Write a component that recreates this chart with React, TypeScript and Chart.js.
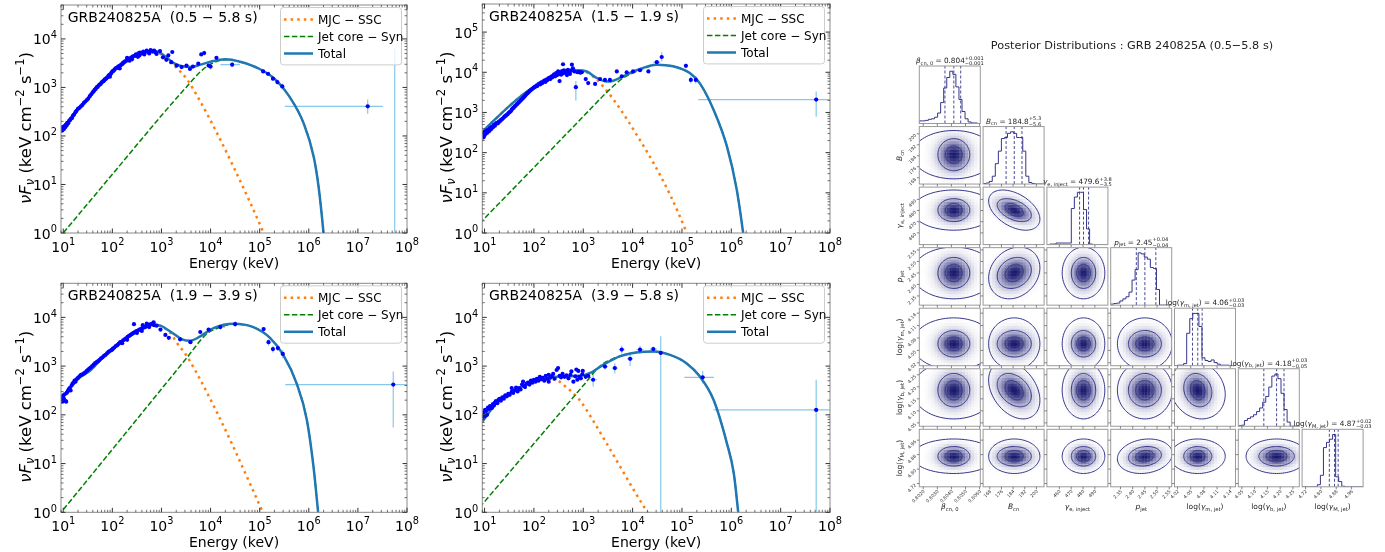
import React, { useEffect, useRef } from 'react';
import { Chart, registerables } from 'chart.js';
Chart.register(...registerables);
Chart.defaults.font.family = '"DejaVu Sans", sans-serif';

const FAM = '"DejaVu Sans", sans-serif';

// ---------------- SED data (log10 E [keV], log10 nuFnu) ----------------
const xTickExps = [1, 2, 3, 4, 5, 6, 7, 8];
const yTickExpsA = [0, 1, 2, 3, 4];
const yTickExpsB = [0, 1, 2, 3, 4, 5];
const legendLabels = ['MJC − SSC', 'Jet core − Syn', 'Total'];
const panelTitles = ['GRB240825A  (0.5 − 5.8 s)', 'GRB240825A  (1.5 − 1.9 s)', 'GRB240825A  (1.9 − 3.9 s)', 'GRB240825A  (3.9 − 5.8 s)'];

const p1Total = [[0.95,2.1],[1.0,2.15],[1.07,2.25],[1.17,2.39],[1.27,2.53],[1.47,2.73],[1.68,2.99],[1.88,3.18],[2.02,3.35],[2.22,3.49],[2.42,3.62],[2.63,3.71],[2.83,3.75],[2.95,3.73],[3.1,3.62],[3.25,3.5],[3.4,3.44],[3.6,3.42],[3.8,3.47],[4.0,3.53],[4.3,3.58],[4.6,3.53],[5.0,3.38],[5.3,3.18],[5.6,2.82],[5.9,2.25],[6.1,1.57],[6.2,0.95],[6.3,0.0],[6.35,-0.6]];
const p1Ssc = [[0.95,2.1],[1.0,2.15],[1.07,2.25],[1.17,2.39],[1.27,2.53],[1.47,2.73],[1.68,2.99],[1.88,3.18],[2.02,3.35],[2.22,3.49],[2.42,3.62],[2.63,3.71],[2.83,3.74],[2.95,3.71],[3.1,3.58],[3.31,3.4],[3.51,3.18],[3.78,2.73],[4.12,2.08],[4.46,1.38],[4.8,0.64],[5.08,0.0],[5.14,-0.15]];
const p1Syn = [[0.9,-0.12],[2.0,1.21],[3.0,2.42],[3.5,3.0],[3.8,3.33],[4.0,3.48],[4.3,3.57],[4.6,3.53],[5.0,3.38],[5.3,3.18],[5.6,2.82],[5.9,2.25],[6.1,1.57],[6.2,0.95],[6.3,0.0],[6.35,-0.6]];
const p1Points = [[0.96,2.13],[0.97,2.17],[0.98,2.11],[0.99,2.16],[1.0,2.19],[1.01,2.14],[1.02,2.2],[1.04,2.18],[1.05,2.23],[1.07,2.22],[1.08,2.27],[1.1,2.26],[1.12,2.31],[1.14,2.33],[1.16,2.36],[1.18,2.37],[1.2,2.42],[1.22,2.44],[1.25,2.49],[1.27,2.52],[1.3,2.56],[1.33,2.58],[1.36,2.61],[1.39,2.64],[1.42,2.68],[1.45,2.71],[1.48,2.74],[1.51,2.77],[1.54,2.82],[1.57,2.86],[1.6,2.9],[1.62,2.92],[1.64,2.95],[1.66,2.97],[1.68,3.0],[1.7,3.01],[1.72,3.04],[1.74,3.06],[1.76,3.07],[1.78,3.1],[1.8,3.12],[1.82,3.13],[1.84,3.16],[1.86,3.17],[1.88,3.19],[1.9,3.21],[1.92,3.24],[1.94,3.26],[1.96,3.27],[1.98,3.3],[2.0,3.33],[2.02,3.34],[2.04,3.36],[2.06,3.39],[2.08,3.4],[2.1,3.41],[2.12,3.43],[2.14,3.44],[2.16,3.45],[2.18,3.47],[2.2,3.48],[2.22,3.51],[2.25,3.53],[2.28,3.55],[2.3,3.57],[2.33,3.58],[2.36,3.6],[2.39,3.62],[2.42,3.64],[2.45,3.65],[2.48,3.68],[2.5,3.66],[2.53,3.7],[2.56,3.72],[2.6,3.7],[2.63,3.74],[2.66,3.72],[2.7,3.76],[2.74,3.73],[2.78,3.77],[2.82,3.74],[2.85,3.76],[2.88,3.72],[1.95,3.22],[2.15,3.39],[2.35,3.55],[2.52,3.63],[2.65,3.68],[2.3,3.61],[2.4,3.58],[2.55,3.66],[2.75,3.7],[2.9,3.69],[2.97,3.75],[3.03,3.62],[3.1,3.57],[3.14,3.66],[3.22,3.73],[3.2,3.52],[3.31,3.45],[3.41,3.42],[3.51,3.45],[3.58,3.38],[3.64,3.43],[3.75,3.49],[3.81,3.68],[3.96,3.45],[4.12,3.61]];
const p1Err = [[3.87,3.71,3.85,3.89,3.66,3.76],[4.0,3.43,3.98,4.02,3.37,3.49],[4.44,3.47,4.2,4.6,3.42,3.52],[5.07,3.33,5.04,5.1,3.3,3.36],[5.17,3.28,5.14,5.2,3.25,3.31],[5.27,3.18,5.24,5.3,3.14,3.22],[5.36,3.11,5.33,5.39,3.06,3.16],[5.46,3.02,5.42,5.5,2.96,3.08],[7.2,2.61,5.51,7.51,2.46,2.75],[7.75,-1,7.75,7.75,-2,3.79]];

const p2Total = [[0.95,2.5],[0.97,2.53],[1.24,2.86],[1.65,3.32],[1.92,3.57],[2.26,3.81],[2.59,3.98],[2.86,4.05],[3.07,4.02],[3.27,3.86],[3.47,3.77],[3.61,3.79],[3.81,3.9],[4.08,4.05],[4.49,4.19],[4.82,4.15],[5.16,3.98],[5.36,3.73],[5.64,3.07],[5.91,2.16],[6.11,1.08],[6.24,0.0],[6.3,-0.6]];
const p2Ssc = [[0.95,2.5],[0.97,2.53],[1.24,2.86],[1.65,3.32],[1.92,3.57],[2.26,3.81],[2.59,3.98],[2.86,4.04],[3.07,4.0],[3.27,3.82],[3.47,3.55],[3.74,3.1],[4.08,2.45],[4.42,1.75],[4.76,0.95],[5.1,0.0],[5.15,-0.15]];
const p2Syn = [[0.9,0.24],[2.0,1.63],[3.0,2.9],[3.5,3.53],[3.8,3.85],[4.1,4.03],[4.49,4.18],[4.82,4.15],[5.16,3.97],[5.36,3.72],[5.64,3.07],[5.91,2.16],[6.11,1.08],[6.24,0.0],[6.3,-0.6]];
const p2Points = [[0.97,2.45],[0.98,2.38],[0.99,2.5],[1.0,2.43],[1.01,2.52],[1.02,2.47],[1.04,2.55],[1.05,2.49],[1.07,2.57],[1.09,2.53],[1.11,2.61],[1.13,2.58],[1.15,2.65],[1.17,2.63],[1.19,2.69],[1.21,2.67],[1.23,2.72],[1.25,2.74],[1.27,2.73],[1.29,2.77],[1.31,2.78],[1.33,2.81],[1.35,2.83],[1.37,2.85],[1.39,2.88],[1.41,2.9],[1.43,2.92],[1.45,2.94],[1.47,2.96],[1.49,2.99],[1.51,3.01],[1.53,3.03],[1.55,3.07],[1.57,3.1],[1.59,3.12],[1.61,3.15],[1.63,3.17],[1.65,3.2],[1.67,3.22],[1.69,3.25],[1.71,3.27],[1.73,3.3],[1.75,3.32],[1.77,3.35],[1.79,3.37],[1.81,3.4],[1.83,3.43],[1.85,3.46],[1.87,3.48],[1.89,3.5],[1.91,3.53],[1.93,3.55],[1.95,3.57],[1.97,3.59],[1.99,3.61],[2.01,3.63],[2.03,3.64],[2.05,3.67],[2.07,3.66],[2.09,3.7],[2.11,3.72],[2.13,3.7],[2.15,3.75],[2.17,3.73],[2.19,3.77],[2.21,3.79],[2.23,3.76],[2.25,3.82],[2.27,3.8],[2.29,3.84],[2.31,3.86],[2.33,3.83],[2.35,3.89],[2.37,3.87],[2.39,3.92],[2.41,3.95],[2.43,3.9],[2.45,3.98],[2.47,3.93],[2.49,4.02],[2.51,3.96],[2.52,3.78],[2.53,4.0],[2.55,3.94],[2.57,4.03],[2.59,3.97],[2.61,4.05],[2.63,3.99],[2.65,4.02],[2.67,3.93],[2.69,4.06],[2.71,4.0],[2.73,3.96],[2.75,4.04],[2.77,4.19],[2.59,4.2],[2.79,4.1],[2.82,4.02],[2.88,4.0],[2.91,4.01],[2.94,3.99],[2.97,4.0],[3.05,3.83],[3.1,3.73],[3.24,3.71],[3.34,3.83],[3.44,3.81],[3.54,3.81],[3.68,4.02],[3.78,3.9],[3.88,4.0],[4.01,4.02],[4.15,4.05],[4.32,4.02]];
const p2Err = [[2.85,3.63,2.85,2.85,3.3,3.78],[4.59,4.38,4.55,4.63,4.27,4.5],[4.49,4.25,4.42,4.56,4.2,4.3],[5.08,4.16,5.05,5.11,4.1,4.22],[5.18,3.81,5.15,5.21,3.72,3.9],[5.28,3.81,5.25,5.31,3.72,3.9],[7.72,3.32,5.33,8.1,2.89,3.52]];

const p3Total = [[0.95,2.32],[0.97,2.34],[1.28,2.72],[1.56,2.92],[1.76,3.13],[2.03,3.37],[2.3,3.58],[2.57,3.75],[2.81,3.85],[2.98,3.83],[3.18,3.71],[3.42,3.55],[3.59,3.52],[3.79,3.61],[4.06,3.78],[4.47,3.87],[4.87,3.8],[5.21,3.58],[5.48,3.23],[5.75,2.65],[5.96,1.9],[6.1,0.9],[6.19,0.0],[6.25,-0.6]];
const p3Ssc = [[0.95,2.32],[0.97,2.34],[1.28,2.72],[1.56,2.92],[1.76,3.13],[2.03,3.37],[2.3,3.58],[2.57,3.75],[2.81,3.84],[2.98,3.82],[3.18,3.68],[3.32,3.47],[3.52,3.2],[3.79,2.72],[4.13,2.05],[4.47,1.33],[4.81,0.57],[5.06,0.0],[5.12,-0.15]];
const p3Syn = [[0.9,-0.07],[2.0,1.29],[3.0,2.53],[3.5,3.15],[3.92,3.66],[4.1,3.76],[4.47,3.86],[4.87,3.8],[5.21,3.58],[5.48,3.23],[5.75,2.65],[5.96,1.9],[6.1,0.9],[6.19,0.0],[6.25,-0.6]];
const p3Points = [[0.96,2.3],[0.97,2.36],[0.98,2.27],[0.99,2.33],[1.0,2.4],[1.01,2.34],[1.03,2.42],[1.05,2.28],[1.06,2.27],[1.07,2.45],[1.09,2.48],[1.11,2.52],[1.13,2.55],[1.15,2.5],[1.17,2.6],[1.19,2.64],[1.21,2.66],[1.23,2.7],[1.25,2.68],[1.27,2.73],[1.3,2.76],[1.33,2.79],[1.36,2.82],[1.39,2.83],[1.42,2.85],[1.45,2.87],[1.48,2.9],[1.5,2.92],[1.53,2.95],[1.56,2.97],[1.59,3.0],[1.62,3.03],[1.65,3.06],[1.68,3.08],[1.71,3.1],[1.74,3.13],[1.77,3.16],[1.8,3.18],[1.83,3.21],[1.86,3.23],[1.89,3.26],[1.92,3.29],[1.95,3.31],[1.98,3.33],[2.01,3.36],[2.04,3.38],[2.07,3.41],[2.1,3.43],[2.13,3.46],[2.16,3.49],[2.19,3.5],[2.22,3.53],[2.25,3.55],[2.28,3.57],[2.31,3.6],[2.34,3.62],[2.37,3.64],[2.4,3.66],[2.43,3.68],[2.46,3.7],[2.49,3.72],[2.52,3.73],[2.55,3.75],[2.58,3.76],[2.61,3.78],[2.64,3.79],[2.67,3.8],[2.7,3.82],[2.73,3.83],[2.76,3.85],[2.79,3.86],[2.82,3.87],[2.85,3.84],[2.44,3.86],[2.62,3.84],[2.7,3.87],[2.84,3.9],[2.3,3.54],[2.5,3.68],[2.6,3.72],[2.75,3.8],[2.2,3.47],[2.0,3.34],[2.9,3.83],[2.98,3.75],[3.08,3.64],[3.15,3.58],[3.38,3.55],[3.59,3.49],[3.79,3.7],[3.96,3.75]];
const p3Err = [[4.2,3.8,4.1,4.3,3.75,3.85],[4.5,3.86,4.4,4.6,3.8,3.92],[5.08,3.76,5.05,5.11,3.72,3.8],[5.18,3.49,5.15,5.21,3.42,3.55],[5.27,3.35,5.24,5.3,3.28,3.42],[5.37,3.37,5.34,5.4,3.31,3.43],[5.47,3.25,5.44,5.5,3.16,3.33],[7.72,2.62,5.52,8.1,1.74,2.89]];

const p4Total = [[0.93,1.84],[0.95,1.86],[1.24,2.24],[1.58,2.48],[1.92,2.65],[2.26,2.75],[2.59,2.79],[2.93,2.8],[3.14,2.86],[3.41,3.03],[3.74,3.2],[4.08,3.28],[4.42,3.3],[4.76,3.23],[5.09,3.06],[5.36,2.79],[5.64,2.31],[5.91,1.42],[6.05,0.8],[6.14,0.0],[6.2,-0.6]];
const p4Ssc = [[0.93,1.84],[0.95,1.86],[1.24,2.24],[1.58,2.48],[1.92,2.65],[2.26,2.73],[2.45,2.72],[2.59,2.62],[2.93,2.3],[3.2,1.88],[3.47,1.42],[3.74,0.95],[4.01,0.48],[4.3,0.0],[4.36,-0.1]];
const p4Syn = [[0.9,0.1],[2.0,1.41],[3.0,2.6],[3.34,3.0],[3.6,3.15],[3.9,3.25],[4.2,3.29],[4.42,3.3],[4.76,3.23],[5.09,3.06],[5.36,2.79],[5.64,2.31],[5.91,1.42],[6.05,0.8],[6.14,0.0],[6.2,-0.6]];
const p4Points = [[0.96,1.96],[0.98,2.05],[1.0,1.97],[1.01,2.1],[1.03,2.08],[1.05,2.0],[1.07,2.15],[1.09,2.12],[1.11,2.18],[1.13,2.17],[1.15,2.14],[1.17,2.22],[1.19,2.19],[1.21,2.25],[1.23,2.28],[1.26,2.24],[1.28,2.3],[1.3,2.33],[1.33,2.29],[1.36,2.36],[1.39,2.33],[1.42,2.4],[1.45,2.38],[1.48,2.43],[1.51,2.41],[1.55,2.47],[1.58,2.45],[1.61,2.5],[1.64,2.56],[1.67,2.48],[1.7,2.55],[1.73,2.52],[1.76,2.62],[1.79,2.6],[1.82,2.57],[1.85,2.64],[1.88,2.66],[1.91,2.62],[1.94,2.7],[1.97,2.66],[2.0,2.72],[2.03,2.68],[2.06,2.74],[2.09,2.7],[2.12,2.78],[2.15,2.73],[2.18,2.76],[2.21,2.7],[2.24,2.8],[2.27,2.74],[2.3,2.82],[2.33,2.76],[2.36,2.79],[2.39,2.84],[2.42,2.74],[2.46,2.92],[2.49,2.96],[2.52,2.8],[2.55,2.77],[2.58,2.84],[2.62,2.78],[2.66,2.81],[2.7,2.75],[2.74,2.82],[2.76,2.89],[2.8,2.68],[2.84,2.79],[2.88,2.72],[2.92,2.78],[2.95,2.75],[2.98,2.83],[2.86,2.93],[2.9,2.9],[1.78,2.68],[1.55,2.55],[2.3,2.68],[3.05,2.78],[3.1,2.8],[2.99,2.9]];
const p4Err = [[3.2,2.72,3.12,3.28,2.58,2.84],[3.44,2.99,3.38,3.5,2.93,3.05],[3.64,2.96,3.58,3.7,2.85,3.06],[3.78,3.34,3.72,3.84,3.26,3.42],[3.95,3.15,3.89,4.01,3.0,3.28],[4.15,3.34,4.08,4.22,3.25,3.42],[4.42,3.35,4.35,4.49,3.3,3.4],[4.57,3.27,4.57,4.57,-1,3.61],[5.42,2.77,5.05,5.65,2.65,2.9],[7.72,2.1,5.64,8.1,-1,2.72]];

// ---------------- Corner plot data ----------------
const paramRanges = [[0.80172, 0.80605], [163.4, 205.3], [449.5, 501.0], [2.31, 2.56], [4.013, 4.152], [4.036, 4.275], [4.702, 5.02]];
const paramTicks = [[0.802, 0.803, 0.804, 0.805, 0.806], [168, 176, 184, 192, 200], [460, 470, 480, 490], [2.35, 2.40, 2.45, 2.50, 2.55], [4.02, 4.05, 4.08, 4.11, 4.14], [4.05, 4.10, 4.15, 4.20, 4.25], [4.72, 4.80, 4.88, 4.96]];
const paramTickDecimals = [4, 0, 0, 2, 2, 2, 2];
const paramQuantiles = [[0.80354, 0.80417, 0.80466], [179.2, 184.8, 190.1], [477.1, 480.4, 484.7], [2.415, 2.45, 2.495], [4.054, 4.066, 4.076], [4.136, 4.186, 4.215], [4.844, 4.871, 4.89]];
const paramTitleVals = [['0.804', '+0.001', '−0.001'], ['184.8', '+5.3', '−5.6'], ['479.6', '+3.8', '−3.5'], ['2.45', '+0.04', '−0.04'], ['4.06', '+0.03', '−0.03'], ['4.18', '+0.03', '−0.05'], ['4.87', '+0.02', '−0.03']];
const histCounts = [
  [4, 5, 5, 6, 8, 9, 12, 20, 40, 68, 88, 100, 94, 70, 46, 23, 9, 3, 1, 1],
  [1, 1, 2, 5, 15, 39, 63, 87, 89, 97, 100, 97, 89, 89, 63, 15, 3, 1, 0, 0],
  [0, 0, 1, 1, 3, 3, 3, 3, 3, 69, 91, 100, 100, 67, 30, 1, 0, 0, 0, 0],
  [2, 2, 3, 4, 8, 12, 16, 25, 48, 68, 100, 98, 92, 88, 72, 70, 30, 0, 0, 0],
  [0, 0, 1, 1, 4, 62, 90, 100, 100, 75, 15, 10, 8, 11, 6, 3, 1, 1, 1, 0],
  [1, 1, 2, 11, 15, 18, 22, 28, 35, 46, 57, 75, 96, 100, 91, 63, 32, 8, 0, 0],
  [0, 0, 0, 0, 0, 0, 4, 22, 75, 85, 91, 100, 19, 10, 1, 0, 0, 0, 0, 0],
];
// contour half-widths (data units) of the three drawn 2-D levels
const contourRadii = [[0.000606, 0.00113, 0.00294], [6.3, 11.7, 17.6], [5.9, 10.3, 18.0], [0.0375, 0.0675, 0.1125], [0.0167, 0.032, 0.0626], [0.0406, 0.0693, 0.1195], [0.0318, 0.054, 0.0954]];
const pairCorr = { '1,2': -0.45, '1,5': -0.35, '1,3': 0.2, '3,6': 0.15, '4,5': -0.15 };
const paramLabels = [
  [{ t: 'β', it: true }, { t: 'cn, 0', s: 0.7, dy: -0.22 }],
  [{ t: 'B', it: true }, { t: 'cn', s: 0.7, dy: -0.22 }],
  [{ t: 'γ', it: true }, { t: 'e, inject', s: 0.7, dy: -0.22 }],
  [{ t: 'p', it: true }, { t: 'jet', s: 0.7, dy: -0.22 }],
  [{ t: 'log(' }, { t: 'γ', it: true }, { t: 'm, jet', s: 0.7, dy: -0.22 }, { t: ')' }],
  [{ t: 'log(' }, { t: 'γ', it: true }, { t: 'b, jet', s: 0.7, dy: -0.22 }, { t: ')' }],
  [{ t: 'log(' }, { t: 'γ', it: true }, { t: 'M, jet', s: 0.7, dy: -0.22 }, { t: ')' }],
];
const cornerTitle = 'Posterior Distributions : GRB 240825A (0.5−5.8 s)';

// ---------------- helpers ----------------
type Seg = { t?: string; s?: number; dy?: number; it?: boolean; sup?: string; sub?: string };
function fontStr(px: number, it?: boolean) { return `${it ? 'italic ' : ''}${px}px ${FAM}`; }
function measureRich(ctx: CanvasRenderingContext2D, segs: Seg[], size: number) {
  let w = 0;
  for (const sg of segs) {
    const sc = sg.s ?? 1;
    if (sg.sup !== undefined) {
      ctx.font = fontStr(size * sc);
      w += Math.max(ctx.measureText(sg.sup).width, ctx.measureText(sg.sub || '').width);
    } else {
      ctx.font = fontStr(size * sc, sg.it);
      w += ctx.measureText(sg.t || '').width;
    }
  }
  return w;
}
function drawRich(ctx: CanvasRenderingContext2D, segs: Seg[], x: number, y: number, size: number, align: string, rot = 0, color = '#000') {
  const w = measureRich(ctx, segs, size);
  ctx.save();
  ctx.translate(x, y);
  ctx.rotate(rot);
  ctx.fillStyle = color;
  ctx.textBaseline = 'alphabetic';
  ctx.textAlign = 'left';
  let cx = align === 'left' ? 0 : align === 'center' ? -w / 2 : -w;
  for (const sg of segs) {
    const sc = sg.s ?? 1;
    if (sg.sup !== undefined) {
      ctx.font = fontStr(size * sc);
      ctx.fillText(sg.sup, cx, -size * 0.45);
      ctx.fillText(sg.sub || '', cx, size * 0.28);
      cx += Math.max(ctx.measureText(sg.sup).width, ctx.measureText(sg.sub || '').width);
    } else {
      ctx.font = fontStr(size * sc, sg.it);
      ctx.fillText(sg.t || '', cx, -(sg.dy ?? 0) * size);
      cx += ctx.measureText(sg.t || '').width;
    }
  }
  ctx.restore();
}
const toXY = (arr: number[][]) => arr.map((p) => ({ x: Math.pow(10, p[0]), y: Math.pow(10, p[1]) }));

function ChartCanvas({ left, top, width, height, make }: any) {
  const ref = useRef<HTMLCanvasElement>(null);
  useEffect(() => {
    const chart = new Chart(ref.current as HTMLCanvasElement, make());
    return () => chart.destroy();
  }, []);
  return <canvas ref={ref} width={width} height={height} style={{ position: 'absolute', left, top, width, height }} />;
}

// ---------------- SED panels ----------------
const ERR_COLOR = 'rgba(120,195,232,0.9)';
const C_TOTAL = '#1f77b4', C_SYN = '#008000', C_SSC = '#ff7f0e';

function sedConfig(p: any) {
  const decor = {
    id: 'sedDecor',
    beforeDatasetsDraw(chart: any) {
      const { ctx, chartArea: a, scales: { x, y } } = chart;
      ctx.save();
      ctx.beginPath();
      ctx.rect(a.left, a.top, a.right - a.left, a.bottom - a.top);
      ctx.clip();
      ctx.strokeStyle = ERR_COLOR;
      ctx.lineWidth = 1.2;
      for (const e of p.err) {
        const px = x.getPixelForValue(Math.pow(10, e[0]));
        const py = y.getPixelForValue(Math.pow(10, e[1]));
        ctx.beginPath();
        if (e[3] > e[2]) { ctx.moveTo(x.getPixelForValue(Math.pow(10, e[2])), py); ctx.lineTo(x.getPixelForValue(Math.pow(10, e[3])), py); }
        ctx.moveTo(px, y.getPixelForValue(Math.pow(10, e[4])));
        ctx.lineTo(px, y.getPixelForValue(Math.pow(10, e[5])));
        ctx.stroke();
      }
      ctx.restore();
    },
    afterDraw(chart: any) {
      const { ctx, chartArea: a, scales: { x, y } } = chart;
      ctx.save();
      ctx.strokeStyle = '#8a8a8a';
      ctx.lineWidth = 1;
      ctx.strokeRect(a.left, a.top, a.right - a.left, a.bottom - a.top);
      ctx.strokeStyle = '#333';
      const tickX = (v: number, len: number, lw: number) => {
        const px = x.getPixelForValue(v);
        if (px < a.left - 0.5 || px > a.right + 0.5) return;
        ctx.lineWidth = lw;
        ctx.beginPath();
        ctx.moveTo(px, a.bottom); ctx.lineTo(px, a.bottom - len);
        ctx.moveTo(px, a.top); ctx.lineTo(px, a.top + len);
        ctx.stroke();
      };
      const tickY = (v: number, len: number, lw: number) => {
        const py = y.getPixelForValue(v);
        if (py < a.top - 0.5 || py > a.bottom + 0.5) return;
        ctx.lineWidth = lw;
        ctx.beginPath();
        ctx.moveTo(a.left, py); ctx.lineTo(a.left + len, py);
        ctx.moveTo(a.right, py); ctx.lineTo(a.right - len, py);
        ctx.stroke();
      };
      for (let d = 0; d <= 8; d++) {
        for (let m = 2; m <= 9; m++) {
          const v = m * Math.pow(10, d);
          if (v >= x.min && v <= x.max) tickX(v, 2.5, 0.7);
          if (v >= y.min && v <= y.max) tickY(v, 2.5, 0.7);
        }
      }
      for (const k of xTickExps) tickX(Math.pow(10, k), 4.5, 1);
      for (const k of p.yTicks) tickY(Math.pow(10, k), 4.5, 1);
      for (const k of xTickExps) {
        drawRich(ctx, [{ t: '10' }, { t: String(k), s: 0.7, dy: 0.45 }], x.getPixelForValue(Math.pow(10, k)), a.bottom + 18.5, 14, 'center');
      }
      for (const k of p.yTicks) {
        drawRich(ctx, [{ t: '10' }, { t: String(k), s: 0.7, dy: 0.45 }], a.left - 4, y.getPixelForValue(Math.pow(10, k)) + 5.5, 14, 'right');
      }
      drawRich(ctx, [{ t: 'Energy (keV)' }], (a.left + a.right) / 2, a.bottom + 35, 14, 'center');
      const ylab: Seg[] = [{ t: 'ν', it: true }, { t: 'F', it: true }, { t: 'ν', it: true, s: 0.7, dy: -0.2 }, { t: ' (keV cm' }, { t: '−2', s: 0.7, dy: 0.42 }, { t: ' s' }, { t: '−1', s: 0.7, dy: 0.42 }, { t: ')' }];
      drawRich(ctx, ylab, a.left - 36 + 0.35 * 16.5, (a.top + a.bottom) / 2 + 9, 16.5, 'center', -Math.PI / 2);
      drawRich(ctx, [{ t: p.title }], a.left + 6.7, a.top + 16.8, 14, 'left');
      // legend
      const lw = 121, lh = 57.4;
      const lx = a.right - 5.5 - lw, ly = a.top + 2.5;
      const r = 3;
      ctx.beginPath();
      ctx.moveTo(lx + r, ly); ctx.lineTo(lx + lw - r, ly); ctx.arcTo(lx + lw, ly, lx + lw, ly + r, r);
      ctx.lineTo(lx + lw, ly + lh - r); ctx.arcTo(lx + lw, ly + lh, lx + lw - r, ly + lh, r);
      ctx.lineTo(lx + r, ly + lh); ctx.arcTo(lx, ly + lh, lx, ly + lh - r, r);
      ctx.lineTo(lx, ly + r); ctx.arcTo(lx, ly, lx + r, ly, r);
      ctx.closePath();
      ctx.fillStyle = 'rgba(255,255,255,0.8)';
      ctx.fill();
      ctx.strokeStyle = '#cccccc';
      ctx.lineWidth = 1;
      ctx.stroke();
      const styles = [
        { c: C_SSC, w: 2.5, d: [2.5, 4.1] },
        { c: C_SYN, w: 1.5, d: [5.5, 2.4] },
        { c: C_TOTAL, w: 2.5, d: [] as number[] },
      ];
      styles.forEach((st, i) => {
        const yy = ly + 12 + i * 17;
        ctx.strokeStyle = st.c;
        ctx.lineWidth = st.w;
        ctx.setLineDash(st.d);
        ctx.beginPath();
        ctx.moveTo(lx + 3.5, yy); ctx.lineTo(lx + 32.5, yy);
        ctx.stroke();
        ctx.setLineDash([]);
        drawRich(ctx, [{ t: legendLabels[i] }], lx + 37.5, yy + 4.3, 12, 'left');
      });
      ctx.restore();
    },
  };
  const pts = [...p.points, ...p.err.map((e: number[]) => [e[0], e[1]])];
  return {
    type: 'scatter',
    data: {
      datasets: [
        { label: 'data', data: toXY(pts), showLine: false, pointRadius: 2.1, pointBackgroundColor: '#0000ff', pointBorderWidth: 0, backgroundColor: '#0000ff' },
        { label: legendLabels[2], data: toXY(p.total), showLine: true, borderColor: C_TOTAL, borderWidth: 2.5, pointRadius: 0, cubicInterpolationMode: 'monotone' },
        { label: legendLabels[1], data: toXY(p.syn), showLine: true, borderColor: C_SYN, borderWidth: 1.5, borderDash: [5.5, 2.4], pointRadius: 0, cubicInterpolationMode: 'monotone' },
        { label: legendLabels[0], data: toXY(p.ssc), showLine: true, borderColor: C_SSC, borderWidth: 2.5, borderDash: [2.5, 4.1], pointRadius: 0, cubicInterpolationMode: 'monotone' },
      ],
    },
    options: {
      animation: false,
      responsive: false,
      events: [],
      layout: { padding: p.pad },
      scales: {
        x: { type: 'logarithmic', min: 9, max: 1e8, display: false },
        y: { type: 'logarithmic', min: 1, max: p.ymax, display: false },
      },
      plugins: { legend: { display: false }, tooltip: { enabled: false }, title: { display: false } },
    },
    plugins: [decor],
  };
}

const sedPanels = [
  { left: 0, top: 0, w: 420, h: 270, pad: { left: 61, top: 5, right: 13, bottom: 37 }, ymax: 5e4, yTicks: yTickExpsA, title: panelTitles[0], total: p1Total, ssc: p1Ssc, syn: p1Syn, points: p1Points, err: p1Err },
  { left: 420, top: 0, w: 440, h: 270, pad: { left: 62.3, top: 4, right: 30, bottom: 37 }, ymax: 5e5, yTicks: yTickExpsB, title: panelTitles[1], total: p2Total, ssc: p2Ssc, syn: p2Syn, points: p2Points, err: p2Err },
  { left: 0, top: 270, w: 420, h: 282, pad: { left: 61, top: 13.3, right: 13, bottom: 39.7 }, ymax: 5e4, yTicks: yTickExpsA, title: panelTitles[2], total: p3Total, ssc: p3Ssc, syn: p3Syn, points: p3Points, err: p3Err },
  { left: 420, top: 270, w: 440, h: 282, pad: { left: 62.3, top: 13.3, right: 30, bottom: 39.7 }, ymax: 5e4, yTicks: yTickExpsA, title: panelTitles[3], total: p4Total, ssc: p4Ssc, syn: p4Syn, points: p4Points, err: p4Err },
];

// ---------------- Corner cells ----------------
const C_LINE = '#34348c';
const colLeft0 = 919.3, colPitch = 63.8, cellW = 61;
const rowTop0 = 66, rowPitch = 60.55, cellH = 57.5;
const NP = 7;

function cornerConfig(r: number, c: number, pad: any) {
  const diag = r === c;
  const xr = paramRanges[c];
  const yr = diag ? [0, 110] : paramRanges[r];
  const decor = {
    id: 'cornerDecor',
    beforeDatasetsDraw(chart: any) {
      if (diag) return;
      const { ctx, chartArea: a, scales: { x, y } } = chart;
      const rho = (pairCorr as any)[`${c},${r}`] ?? 0;
      const cx = paramQuantiles[c][1], cy = paramQuantiles[r][1];
      const sx = contourRadii[c][1], sy = contourRadii[r][1];
      ctx.save();
      ctx.beginPath();
      ctx.rect(a.left, a.top, a.right - a.left, a.bottom - a.top);
      ctx.clip();
      const n = 20;
      const dx = (x.max - x.min) / n, dyv = (y.max - y.min) / n;
      for (let i = 0; i < n; i++) {
        for (let j = 0; j < n; j++) {
          const xv = x.min + (i + 0.5) * dx, yv = y.min + (j + 0.5) * dyv;
          const u = (xv - cx) / sx, v = (yv - cy) / sy;
          const d2 = (u * u - 2 * rho * u * v + v * v) / (1 - rho * rho);
          const t = Math.exp(-1.3 * d2);
          if (t < 0.01) continue;
          const px0 = x.getPixelForValue(x.min + i * dx), px1 = x.getPixelForValue(x.min + (i + 1) * dx);
          const py0 = y.getPixelForValue(y.min + j * dyv), py1 = y.getPixelForValue(y.min + (j + 1) * dyv);
          ctx.fillStyle = `rgb(${Math.round(255 - 230 * t)},${Math.round(255 - 230 * t)},${Math.round(255 - 145 * t)})`;
          ctx.fillRect(px0, py1, px1 - px0 + 0.4, py0 - py1 + 0.4);
        }
      }
      ctx.strokeStyle = C_LINE;
      ctx.lineWidth = 1;
      const q = Math.sqrt(1 - rho * rho);
      for (let k = 0; k < 3; k++) {
        const rx = contourRadii[c][k], ry = contourRadii[r][k];
        ctx.beginPath();
        for (let s = 0; s <= 96; s++) {
          const th = (s / 96) * Math.PI * 2;
          const xv = cx + rx * Math.cos(th);
          const yv = cy + ry * (rho * Math.cos(th) + q * Math.sin(th));
          const px = x.getPixelForValue(xv), py = y.getPixelForValue(yv);
          if (s === 0) ctx.moveTo(px, py); else ctx.lineTo(px, py);
        }
        ctx.stroke();
      }
      ctx.restore();
    },
    afterDraw(chart: any) {
      const { ctx, chartArea: a, scales: { x, y } } = chart;
      ctx.save();
      ctx.strokeStyle = '#9a9a9a';
      ctx.lineWidth = 1;
      ctx.strokeRect(a.left, a.top, a.right - a.left, a.bottom - a.top);
      ctx.strokeStyle = '#666';
      ctx.lineWidth = 0.8;
      for (const tv of paramTicks[c]) {
        const px = x.getPixelForValue(tv);
        ctx.beginPath(); ctx.moveTo(px, a.bottom); ctx.lineTo(px, a.bottom + 2.5); ctx.stroke();
        if (r === NP - 1) {
          ctx.save();
          ctx.translate(px + 1, a.bottom + 4);
          ctx.rotate(-Math.PI / 4);
          ctx.font = fontStr(4.6);
          ctx.fillStyle = '#333';
          ctx.textAlign = 'right';
          ctx.textBaseline = 'middle';
          ctx.fillText(tv.toFixed(paramTickDecimals[c]), 0, 0);
          ctx.restore();
        }
      }
      if (!diag) {
        for (const tv of paramTicks[r]) {
          const py = y.getPixelForValue(tv);
          ctx.beginPath(); ctx.moveTo(a.left, py); ctx.lineTo(a.left - 2.5, py); ctx.stroke();
          if (c === 0) {
            ctx.save();
            ctx.translate(a.left - 3.5, py + 1);
            ctx.rotate(-Math.PI / 4);
            ctx.font = fontStr(4.6);
            ctx.fillStyle = '#333';
            ctx.textAlign = 'right';
            ctx.textBaseline = 'middle';
            ctx.fillText(tv.toFixed(paramTickDecimals[r]), 0, 0);
            ctx.restore();
          }
        }
      }
      if (r === NP - 1) drawRich(ctx, paramLabels[c] as Seg[], (a.left + a.right) / 2, a.bottom + 22.5, 7.5, 'center', 0, '#222');
      if (c === 0 && r > 0) drawRich(ctx, paramLabels[r] as Seg[], a.left - 20 + 0.35 * 7.5, (a.top + a.bottom) / 2, 7.5, 'center', -Math.PI / 2, '#222');
      if (diag) {
        const tv = paramTitleVals[c];
        const segs: Seg[] = [...(paramLabels[c] as Seg[]), { t: ' = ' + tv[0] }, { sup: tv[1], sub: tv[2], s: 0.7 }];
        drawRich(ctx, segs, (a.left + a.right) / 2, a.top - 3, 7.3, 'center', 0, '#222');
      }
      ctx.restore();
    },
  };
  const datasets: any[] = [];
  if (diag) {
    const counts = histCounts[c];
    const bw = (xr[1] - xr[0]) / counts.length;
    const step = [{ x: xr[0], y: 0 }, ...counts.map((h, k) => ({ x: xr[0] + k * bw, y: h })), { x: xr[1], y: 0 }];
    datasets.push({ data: step, showLine: true, stepped: 'after', borderColor: C_LINE, borderWidth: 1, pointRadius: 0 });
    for (const qv of paramQuantiles[c]) {
      datasets.push({ data: [{ x: qv, y: 0 }, { x: qv, y: 110 }], showLine: true, borderColor: C_LINE, borderWidth: 0.9, borderDash: [3, 2], pointRadius: 0 });
    }
  }
  return {
    type: 'scatter',
    data: { datasets },
    options: {
      animation: false,
      responsive: false,
      events: [],
      layout: { padding: pad },
      scales: {
        x: { type: 'linear', min: xr[0], max: xr[1], display: false },
        y: { type: 'linear', min: yr[0], max: yr[1], display: false },
      },
      plugins: { legend: { display: false }, tooltip: { enabled: false }, title: { display: false } },
    },
    plugins: [decor],
  };
}

export default function App() {
  const cells: any[] = [];
  for (let r = 0; r < NP; r++) {
    for (let c = 0; c <= r; c++) {
      const cl = colLeft0 + c * colPitch, ct = rowTop0 + r * rowPitch;
      const left = Math.floor(cl - 45), top = Math.floor(ct - 16);
      const padLeft = cl - left, padTop = ct - top;
      const width = Math.ceil(padLeft + cellW + 45), height = Math.ceil(padTop + cellH + 36);
      const pad = { left: padLeft, top: padTop, right: width - padLeft - cellW, bottom: height - padTop - cellH };
      cells.push({ key: `${r}-${c}`, left, top, width, height, make: () => cornerConfig(r, c, pad) });
    }
  }
  return (
    <div style={{ position: 'absolute', left: 0, top: 0, width: 1385, height: 552, background: '#fff', overflow: 'hidden' }}>
      {sedPanels.map((p, i) => (
        <ChartCanvas key={'sed' + i} left={p.left} top={p.top} width={p.w} height={p.h} make={() => sedConfig(p)} />
      ))}
      {cells.map((cc) => (
        <ChartCanvas key={cc.key} left={cc.left} top={cc.top} width={cc.width} height={cc.height} make={cc.make} />
      ))}
      <div style={{ position: 'absolute', left: 882, top: 39, width: 500, textAlign: 'center', font: `11.3px ${FAM}`, lineHeight: '13px', color: '#222', whiteSpace: 'nowrap' }}>
        {cornerTitle}
      </div>
    </div>
  );
}
